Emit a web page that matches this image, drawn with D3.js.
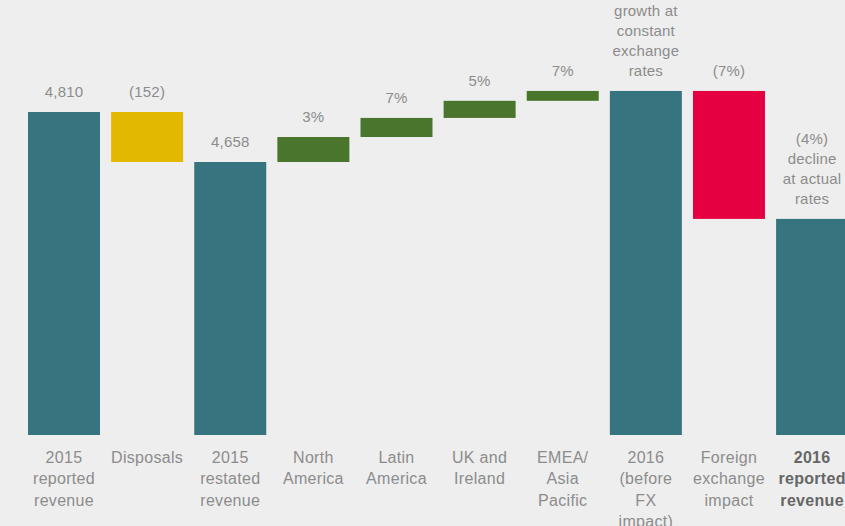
<!DOCTYPE html>
<html>
<head>
<meta charset="utf-8">
<script src="https://cdn.jsdelivr.net/npm/d3@7/dist/d3.min.js"></script>
<style>
  html, body { margin: 0; padding: 0; background: #eeeeee; overflow: hidden; }
  svg { display: block; }
  text { font-family: "Liberation Sans", Arial, Helvetica, sans-serif; }
</style>
</head>
<body>
<svg id="chart" width="845" height="526"></svg>
<script>
// Revenue bridge, 2015 reported to 2016 reported (£m)
const categories = [
  "2015\nreported\nrevenue",
  "Disposals",
  "2015\nrestated\nrevenue",
  "North\nAmerica",
  "Latin\nAmerica",
  "UK and\nIreland",
  "EMEA/\nAsia\nPacific",
  "2016\n(before\nFX\nimpact)",
  "Foreign\nexchange\nimpact",
  "2016\nreported\nrevenue"
];
// "total" bars stand on the base; the others float as changes
const kinds = ["total", "disposal", "total", "region", "region", "region", "region", "total", "fx", "total"];
const values = [4810, -152, 4658, 76, 58, 52, 30, 4874, -389, 4485];
const valueLabels = [
  "4,810",
  "(152)",
  "4,658",
  "3%",
  "7%",
  "5%",
  "7%",
  "growth at\nconstant\nexchange\nrates",
  "(7%)",
  "(4%)\ndecline\nat actual\nrates"
];

const colours = { total: "#367480", disposal: "#e2b800", region: "#4a752c", fx: "#e40041" };

const svg = d3.select("#chart");

const x = d3.scaleBand()
  .domain(categories)
  .range([28, 848.1])
  .paddingInner(0.1338)
  .paddingOuter(0);

const base = 3828;
const y = d3.scaleLinear().domain([base, 4810]).range([435, 112]);

// running totals for the floating bars
let running = 0;
const bars = categories.map((c, i) => {
  let lo, hi;
  if (kinds[i] === "total") {
    lo = base; hi = values[i]; running = values[i];
  } else {
    const start = running, end = running + values[i];
    lo = Math.min(start, end); hi = Math.max(start, end);
    running = end;
  }
  return { cat: c, kind: kinds[i], lo, hi, label: valueLabels[i], last: i === categories.length - 1 };
});

svg.append("g")
  .selectAll("rect")
  .data(bars)
  .join("rect")
  .attr("x", d => x(d.cat))
  .attr("width", x.bandwidth())
  .attr("y", d => y(d.hi))
  .attr("height", d => y(d.lo) - y(d.hi))
  .attr("fill", d => colours[d.kind]);

// value labels above each bar, last line sitting just over the bar top
const valueG = svg.append("g")
  .attr("font-size", 15)
  .attr("letter-spacing", 0.2)
  .attr("fill", "#8c8c8c")
  .attr("text-anchor", "middle");

bars.forEach(d => {
  const lines = d.label.split("\n");
  const t = valueG.append("text");
  lines.forEach((ln, j) => {
    t.append("tspan")
      .attr("x", x(d.cat) + x.bandwidth() / 2)
      .attr("y", y(d.hi) - 15 - (lines.length - 1 - j) * 20)
      .text(ln);
  });
});

// category labels under the baseline
const catG = svg.append("g")
  .attr("font-size", 16)
  .attr("letter-spacing", 0.3)
  .attr("text-anchor", "middle");

bars.forEach(d => {
  const lines = d.cat.split("\n");
  const t = catG.append("text")
    .attr("fill", d.last ? "#666666" : "#8c8c8c")
    .attr("font-weight", d.last ? "bold" : "normal");
  lines.forEach((ln, j) => {
    t.append("tspan")
      .attr("x", x(d.cat) + x.bandwidth() / 2)
      .attr("y", 462.5 + j * 21.5)
      .text(ln);
  });
});
</script>
</body>
</html>
